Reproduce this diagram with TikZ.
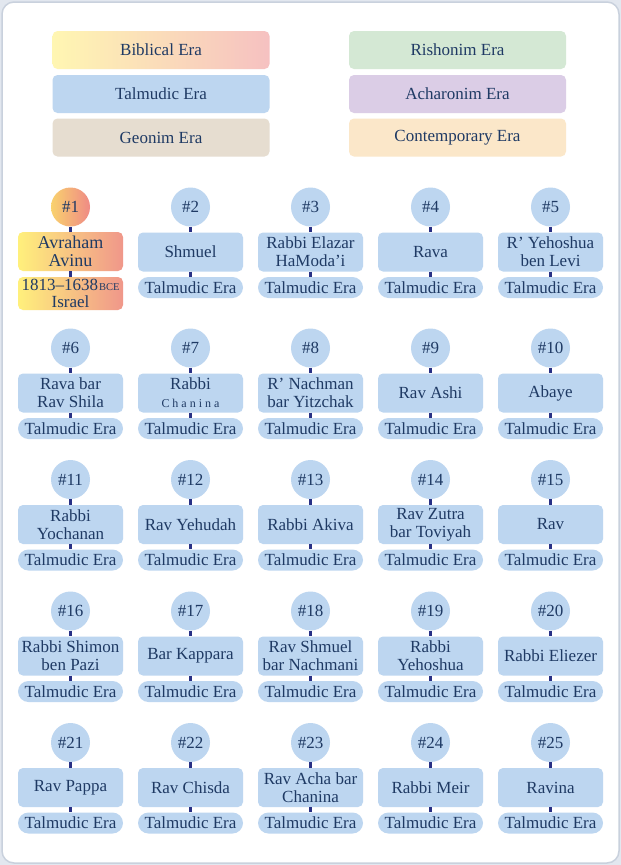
\documentclass[tikz,border=0pt]{standalone}
\usepackage{fontspec}
\setmainfont{Liberation Serif}
\definecolor{pagebg}{HTML}{E2E7EF}
\definecolor{panelline}{HTML}{C9D1DD}
\definecolor{tbl}{HTML}{BDD6F0}
\definecolor{ink}{HTML}{1F3A64}
\definecolor{linkc}{HTML}{283085}
\definecolor{geon}{HTML}{E6DDD0}
\definecolor{rish}{HTML}{D4E8D4}
\definecolor{acha}{HTML}{DBCDE6}
\definecolor{cont}{HTML}{FBE7C9}
\definecolor{bibL}{HTML}{FFF6B2}
\definecolor{bibR}{HTML}{F6C1C1}
\definecolor{hotL}{HTML}{FFF07C}
\definecolor{hotR}{HTML}{F0978A}
\definecolor{circL}{HTML}{F9D26E}
\definecolor{circR}{HTML}{EF8A85}
\tikzset{
  legend/.style={rectangle, rounded corners=5, minimum width=217, minimum height=38,
    inner sep=0, text=ink, font=\fontsize{17}{18}\selectfont},
  numdot/.style={circle, fill=tbl, minimum size=39, inner sep=0, text=ink,
    font=\fontsize{17}{18}\selectfont},
  namebox/.style={rectangle, rounded corners=5, fill=tbl, minimum width=105,
    minimum height=39, inner sep=0, align=center, text=ink,
    font=\fontsize{17}{18}\selectfont},
  erapill/.style={rectangle, rounded corners=10.5, fill=tbl, minimum width=105,
    minimum height=21, inner sep=0, text=ink, font=\fontsize{17}{18}\selectfont},
  link/.style={draw=linkc, line width=3},
}
\begin{document}
\begin{tikzpicture}[x=1pt,y=-1pt]
\useasboundingbox (0,0) rectangle (621,865);
% page and panel
\fill[pagebg] (0,0) rectangle (621,865);
\draw[panelline, line width=1.5, fill=white, rounded corners=12] (2,2) rectangle (619,863);

% era legend
\node[legend, left color=bibL, right color=bibR] (lgBiblical) at (161,50) {Biblical Era};
\node[legend, fill=tbl]  (lgTalmudic) at (161,94) {Talmudic Era};
\node[legend, fill=geon] (lgGeonim) at (161,137.5) {Geonim Era};
\node[legend, fill=rish] (lgRishonim) at (457.5,50) {Rishonim Era};
\node[legend, fill=acha] (lgAcharonim) at (457.5,94) {Acharonim Era};
\node[legend, fill=cont] (lgContemporary) at (457.5,137.5) {Contemporary Era};

% first entry, Biblical era
\node[numdot, fill=none, left color=circL, right color=circR] (c1) at (70.5,207) {\#1};
\node[namebox, fill=none, left color=hotL, right color=hotR,
  font=\fontsize{18}{18}\selectfont] (n1) at (70.5,251.5) {Avraham\\Avinu};
\node[rectangle, rounded corners=5, minimum width=105, minimum height=33, inner sep=0,
  align=center, text=ink, font=\fontsize{17}{16.5}\selectfont,
  left color=hotL, right color=hotR] (e1) at (70.5,293.5)
  {1813–1638\kern1pt{\fontsize{10.5}{12}\selectfont BCE}\\Israel};
\draw[link] (c1) -- (n1);
\draw[link] (n1) -- (e1);

% remaining entries, Talmudic era
\foreach \i/\nm in {
  2/{Shmuel},
  3/{Rabbi Elazar\\HaModa’i},
  4/{Rava},
  5/{R’ Yehoshua\\ben Levi},
  6/{Rava bar\\Rav Shila},
  7/{Rabbi\\{\fontsize{12}{14}\selectfont\addfontfeature{LetterSpace=25}Chanina}},
  8/{R’ Nachman\\bar Yitzchak},
  9/{Rav Ashi},
  10/{Abaye},
  11/{Rabbi\\Yochanan},
  12/{Rav Yehudah},
  13/{Rabbi Akiva},
  14/{Rav Zutra\\bar Toviyah},
  15/{Rav},
  16/{Rabbi Shimon\\ben Pazi},
  17/{Bar Kappara},
  18/{Rav Shmuel\\bar Nachmani},
  19/{Rabbi\\Yehoshua},
  20/{Rabbi Eliezer},
  21/{Rav Pappa},
  22/{Rav Chisda},
  23/{Rav Acha bar\\Chanina},
  24/{Rabbi Meir},
  25/{Ravina}} {
  \pgfmathtruncatemacro\col{mod(\i-1,5)}
  \pgfmathtruncatemacro\row{div(\i-1,5)}
  \pgfmathsetmacro\cx{70.5+120*\col}
  \pgfmathsetmacro\top{\row==0 ? 232 : 373+131.5*(\row-1)}
  \node[numdot] (c\i) at (\cx,\top-25) {\#\i};
  \node[namebox] (n\i) at (\cx,\top+20) {\nm};
  \node[erapill] (e\i) at (\cx,\top+55.5) {Talmudic Era};
  \draw[link] (c\i) -- (n\i);
  \draw[link] (n\i) -- (e\i);
}
\end{tikzpicture}
\end{document}
